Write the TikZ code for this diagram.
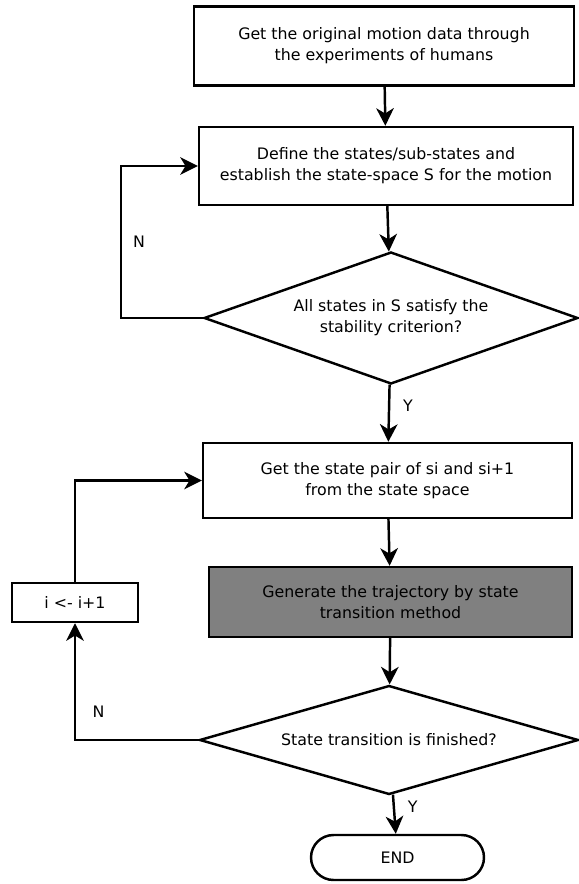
\documentclass[tikz,border=0pt]{standalone}
\usepackage{fontspec}
\setmainfont{DejaVu Sans}
\usetikzlibrary{shapes,arrows.meta,calc}

\begin{document}
\begin{tikzpicture}[x=0.02cm, y=-0.02cm, line width=1.4pt,
    >={Stealth[length=10pt,width=10pt,inset=3pt]},
    font=\fontsize{9}{12}\selectfont,
    box/.style={draw, rectangle, align=center, inner sep=0pt},
    decision/.style={draw, diamond, align=center, inner sep=0pt},
    term/.style={draw, rounded rectangle, align=center, inner sep=0pt}]
        \useasboundingbox (0,0) rectangle (578,884);
        \node[box, minimum width=7.6cm, minimum height=1.58cm] (getdata) at (384,46)
            {Get the original motion data through\\the experiments of humans};
        \node[box, minimum width=7.48cm, minimum height=1.56cm] (define) at (386,166)
            {Define the states/sub-states and\\establish the state-space S for the motion};
        \node[decision, shape aspect=2.83, minimum width=7.48cm, minimum height=2.64cm] (stable) at (391,318)
            {All states in S satisfy the\\stability criterion?};
        \node[box, minimum width=7.38cm, minimum height=1.5cm] (pair) at (387.5,480.5)
            {Get the state pair of si and si+1\\from the state space};
        \node[box, fill=gray, minimum width=7.26cm, minimum height=1.4cm] (generate) at (390.5,602)
            {Generate the trajectory by state\\transition method};
        \node[box, minimum width=2.52cm, minimum height=0.78cm] (incr) at (75,602.5) {i <- i+1};
        \node[decision, shape aspect=3.48, minimum width=7.58cm, minimum height=2.18cm] (finished) at (389,740)
            {State transition is finished?};
        \node[term, minimum width=3.46cm, minimum height=0.9cm] (theend) at (397.5,857.5) {END};

        \draw [->] (getdata) -- (define);
        \draw [->] (define) -- (stable);
        \draw [->] (stable.west) -- ++(-82,0) |- (define.west) node[pos=0.25, right=3pt] {N};
        \draw [->] (stable) -- (pair) node[midway, right=4pt, yshift=4pt] {Y};
        \draw [->] (pair) -- (generate);
        \draw [->] (generate) -- (finished);
        \draw [->] (finished.west) -| (incr.south) node[pos=0.62, right=6pt] {N};
        \draw [->] (incr.north) |- (pair.west);
        \draw [->] (finished) -- (theend) node[pos=0.3, right=4pt] {Y};
      \end{tikzpicture}
\end{document}
